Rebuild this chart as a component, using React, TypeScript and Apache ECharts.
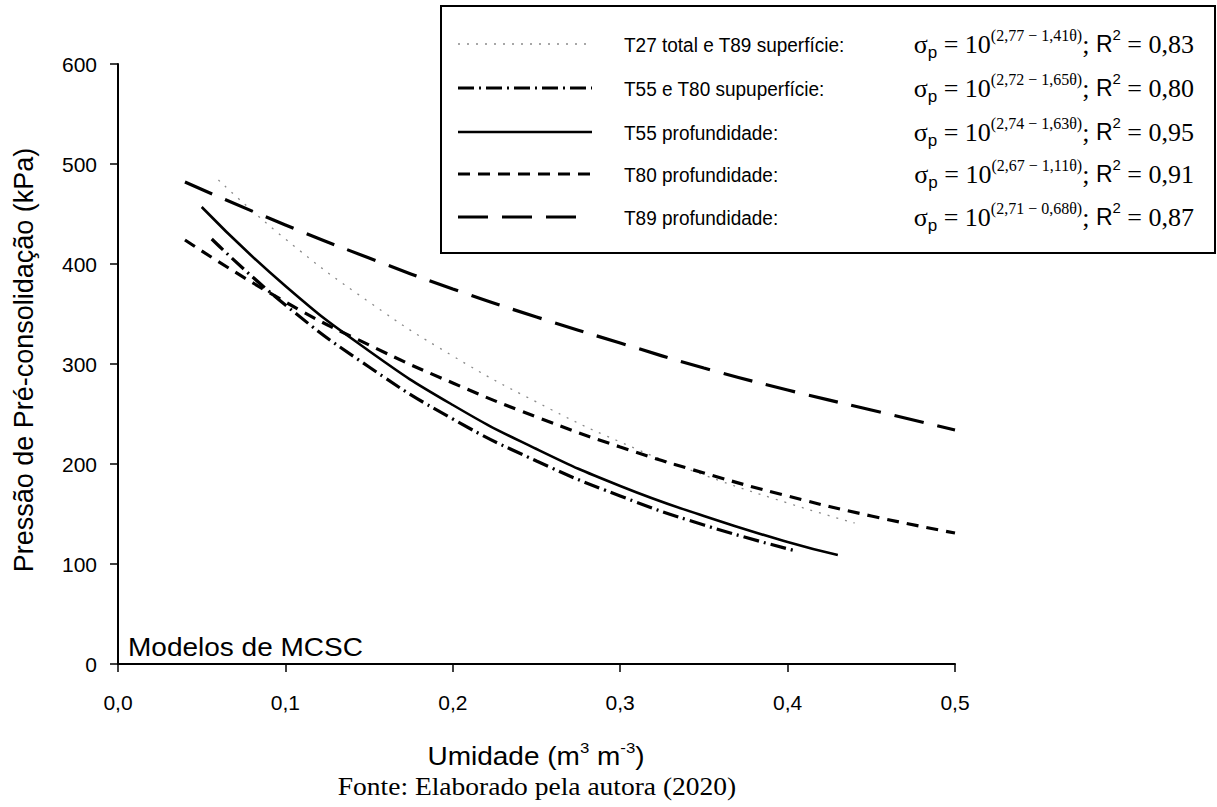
import React, { useEffect, useRef } from "react";
import * as echarts from "echarts";

// Curves: [umidade, pressão]
const t27TotalT89Sup: number[][] = [
  [0.06, 484], [0.1, 425], [0.15, 362], [0.2, 308], [0.25, 262],
  [0.3, 222], [0.35, 189], [0.4, 161], [0.44, 141],
];
const t55T80Sup: number[][] = [
  [0.056, 425], [0.1, 359], [0.15, 297], [0.2, 245], [0.25, 203],
  [0.3, 168], [0.35, 139], [0.405, 113],
];
const t55Prof: number[][] = [
  [0.05, 457], [0.1, 378], [0.15, 313], [0.2, 259], [0.25, 215],
  [0.3, 178], [0.35, 148], [0.4, 122], [0.43, 109],
];
const t80Prof: number[][] = [
  [0.04, 424], [0.1, 362], [0.15, 319], [0.2, 281], [0.25, 247],
  [0.3, 217], [0.35, 191], [0.4, 168], [0.45, 148], [0.5, 131],
];
const t89Prof: number[][] = [
  [0.04, 482], [0.1, 439], [0.15, 406], [0.2, 375], [0.25, 347],
  [0.3, 321], [0.35, 296], [0.4, 274], [0.45, 254], [0.5, 234],
];

const legendNames = [
  "T27 total e T89 superfície:",
  "T55 e T80 supuperfície:",
  "T55 profundidade:",
  "T80 profundidade:",
  "T89 profundidade:",
];
const exponents = [
  "(2,77 − 1,41θ)",
  "(2,72 − 1,65θ)",
  "(2,74 − 1,63θ)",
  "(2,67 − 1,11θ)",
  "(2,71 − 0,68θ)",
];
const r2Values = ["0,83", "0,80", "0,95", "0,91", "0,87"];

const SANS = "Liberation Sans, Arial, sans-serif";
const SERIF = "Liberation Serif, Times New Roman, serif";

const lineStyles: any[] = [
  { color: "#8a8a8a", width: 1.3, type: [2, 7] },
  { color: "#000", width: 3.2, type: [16, 5, 2, 5] },
  { color: "#000", width: 2.6, type: "solid" },
  { color: "#000", width: 3.2, type: [12, 8] },
  { color: "#000", width: 3.2, type: [30, 14] },
];
const sampleEnds = [592, 592, 592, 592, 577];

export default function App() {
  const ref = useRef<HTMLDivElement>(null);
  useEffect(() => {
    document.body.style.margin = "0";
    if (!ref.current) return;
    const chart = echarts.init(ref.current, undefined, { renderer: "svg" });
    const datasets = [t27TotalT89Sup, t55T80Sup, t55Prof, t80Prof, t89Prof];
    const series: any[] = datasets.map((d, i) => ({
      type: "line",
      name: legendNames[i],
      data: d,
      smooth: true,
      showSymbol: false,
      lineStyle: lineStyles[i],
      z: 2 + i,
    }));

    const rowY = [44, 88, 132, 174, 217];
    const graphics: any[] = [
      {
        type: "rect",
        shape: { x: 441, y: 6, width: 774, height: 247 },
        style: { fill: "#fff", stroke: "#000", lineWidth: 2 },
        z: 10,
      },
    ];
    rowY.forEach((y, i) => {
      graphics.push({
        type: "line",
        shape: { x1: 458, y1: y, x2: sampleEnds[i], y2: y },
        style: {
          stroke: lineStyles[i].color,
          lineWidth: lineStyles[i].width,
          lineDash: lineStyles[i].type === "solid" ? null : lineStyles[i].type,
        },
        z: 11,
      });
      graphics.push({
        type: "text",
        x: 624,
        y: y + 1,
        scaleY: 1.08,
        style: {
          text: legendNames[i],
          font: `19px ${SANS}`,
          fill: "#000",
          verticalAlign: "middle",
        },
        z: 11,
      });
      graphics.push({
        type: "text",
        x: 1194,
        y: y,
        style: {
          text: `{s|σ}{sub|p}{s| = 10}{sup|${exponents[i]}}{s|; }{r|R}{rs|2}{s| = ${r2Values[i]}}`,
          align: "right",
          verticalAlign: "middle",
          fill: "#000",
          rich: {
            s: { fontFamily: SERIF, fontSize: 26, lineHeight: 34, fill: "#000" },
            sub: { fontFamily: SANS, fontSize: 17, lineHeight: 17, verticalAlign: "bottom", fill: "#000" },
            sup: { fontFamily: SERIF, fontSize: 16, lineHeight: 15, verticalAlign: "top", fill: "#000" },
            r: { fontFamily: SANS, fontSize: 23, lineHeight: 34, fill: "#000" },
            rs: { fontFamily: SANS, fontSize: 15, lineHeight: 15, verticalAlign: "top", fill: "#000" },
          },
        },
        z: 11,
      });
    });

    graphics.push(
      {
        type: "text",
        x: 128,
        y: 648,
        scaleX: 1.12,
        style: { text: "Modelos de MCSC", font: `25px ${SANS}`, fill: "#000", verticalAlign: "middle" },
      },
      {
        type: "text",
        x: 24,
        y: 360,
        rotation: Math.PI / 2,
        style: {
          text: "Pressão de Pré-consolidação (kPa)",
          font: `27px ${SANS}`,
          fill: "#000",
          align: "center",
          verticalAlign: "middle",
        },
      },
      {
        type: "text",
        x: 536,
        y: 757,
        scaleX: 1.12,
        style: {
          text: "{a|Umidade (m}{b|3}{a| m}{b|-3}{a|)}",
          align: "center",
          verticalAlign: "middle",
          rich: {
            a: { fontFamily: SANS, fontSize: 25, lineHeight: 34, fill: "#000" },
            b: { fontFamily: SANS, fontSize: 15, lineHeight: 15, verticalAlign: "top", fill: "#000" },
          },
        },
      },
      {
        type: "text",
        x: 537,
        y: 787,
        scaleX: 1.1,
        style: {
          text: "Fonte: Elaborado pela autora (2020)",
          font: `25px ${SERIF}`,
          fill: "#000",
          align: "center",
          verticalAlign: "middle",
        },
      }
    );

    chart.setOption({
      animation: false,
      backgroundColor: "#fff",
      grid: { left: 118, top: 64, width: 837, height: 600, containLabel: false },
      xAxis: {
        type: "value",
        min: 0,
        max: 0.5,
        interval: 0.1,
        axisLine: { show: true, lineStyle: { color: "#000", width: 2 } },
        axisTick: { show: true, length: 8, lineStyle: { color: "#000", width: 1.5 } },
        splitLine: { show: false },
        axisLabel: {
          margin: 28,
          color: "#000",
          fontFamily: SANS,
          fontSize: 21,
          formatter: (v: number) => v.toFixed(1).replace(".", ","),
        },
      },
      yAxis: {
        type: "value",
        min: 0,
        max: 600,
        interval: 100,
        axisLine: { show: true, lineStyle: { color: "#000", width: 2 } },
        axisTick: { show: true, length: 8, lineStyle: { color: "#000", width: 1.5 } },
        splitLine: { show: false },
        axisLabel: { margin: 21, color: "#000", fontFamily: SANS, fontSize: 21 },
      },
      series,
      graphic: graphics,
    });
    return () => chart.dispose();
  }, []);
  return <div ref={ref} style={{ width: 1217, height: 807 }} />;
}
